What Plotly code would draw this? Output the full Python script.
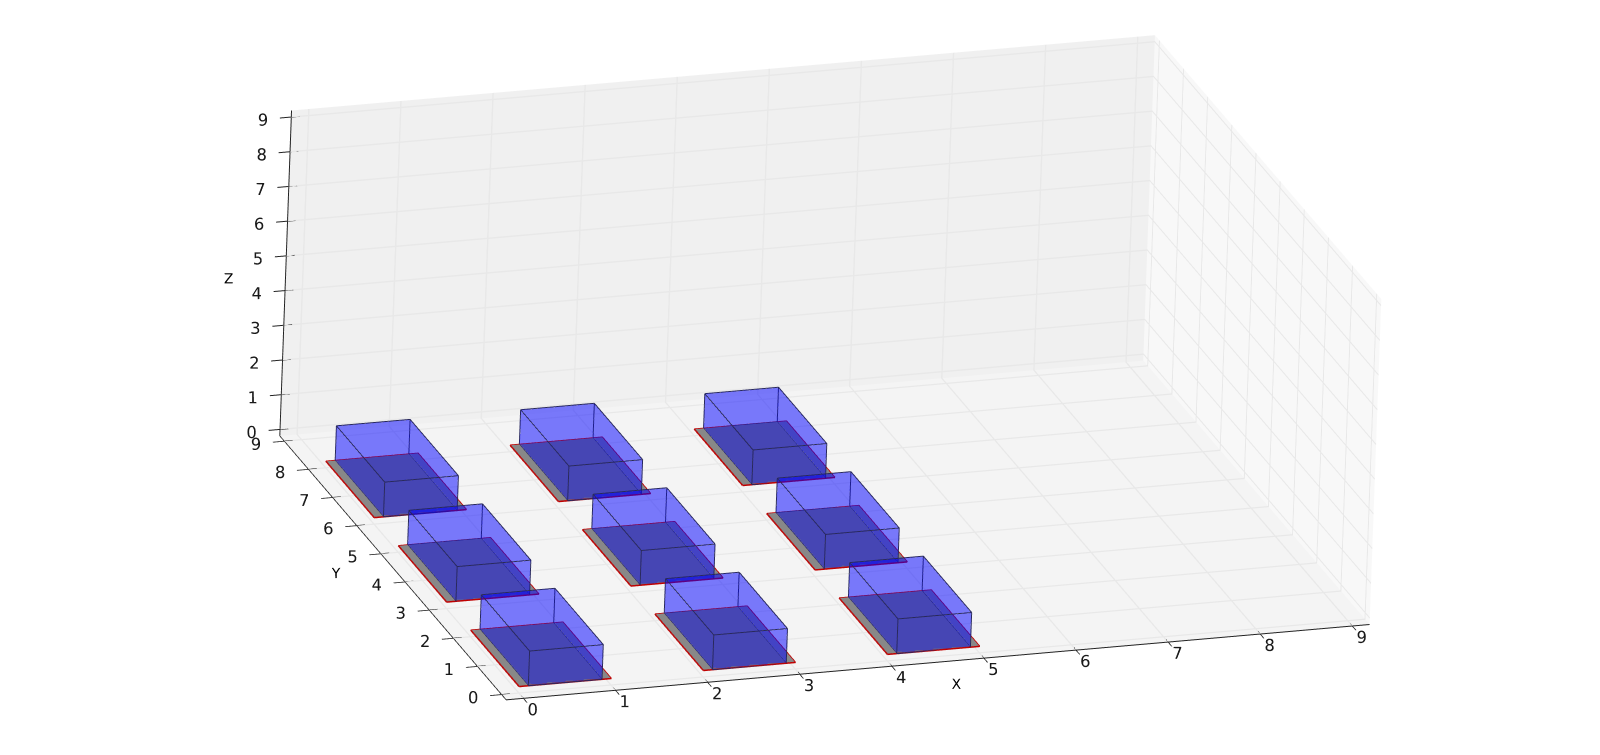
import plotly.graph_objects as go

ticks = list(range(10))
bar_x = [0, 2, 4]
bar_y = [0, 3, 6]
bar_dx = 1
bar_dy = 2
inset = 0.1
height = 1
lo, hi = -0.1875, 9.1875
tick_in = 0.09

fig = go.Figure()
flat = dict(ambient=1, diffuse=0, specular=0)

def quad(x0, x1, y0, y1, z, color):
    return go.Mesh3d(x=[x0, x1, x1, x0], y=[y0, y0, y1, y1], z=[z] * 4, i=[0, 0], j=[1, 2], k=[2, 3], color=color,
                     flatshading=True, lighting=flat, hoverinfo='skip')

I = [4, 4, 0, 0, 1, 1, 2, 2, 3, 3]
J = [5, 6, 1, 5, 2, 6, 3, 7, 0, 4]
K = [6, 7, 5, 4, 6, 5, 7, 6, 4, 7]

for bx in bar_x:
    for by in bar_y:
        fig.add_trace(quad(bx, bx + inset, by, by + bar_dy, 0, '#888888'))
        fig.add_trace(quad(bx + bar_dx - inset, bx + bar_dx, by, by + bar_dy, 0, '#888888'))
        fig.add_trace(quad(bx + inset, bx + bar_dx - inset, by, by + bar_dy, 0, '#646494'))
        fig.add_trace(go.Scatter3d(x=[bx, bx + bar_dx, bx + bar_dx, bx, bx],
                                   y=[by, by, by + bar_dy, by + bar_dy, by], z=[0] * 5, mode='lines',
                                   line=dict(color='#c00000', width=3), hoverinfo='skip'))

for bx in bar_x:
    for by in bar_y:
        x0, x1, y0, y1 = bx + inset, bx + bar_dx - inset, by, by + bar_dy
        xs = [x0, x1, x1, x0, x0, x1, x1, x0]
        ys = [y0, y0, y1, y1, y0, y0, y1, y1]
        zs = [0, 0, 0, 0, height, height, height, height]
        fig.add_trace(go.Mesh3d(x=xs, y=ys, z=zs, i=I, j=J, k=K, color='#0000ff', opacity=0.3, flatshading=True,
                                lighting=flat, hoverinfo='skip'))
        ex, ey, ez = [], [], []
        for a, b in [(0, 1), (1, 2), (2, 3), (3, 0), (4, 5), (5, 6), (6, 7), (7, 4), (0, 4), (1, 5), (2, 6), (3, 7)]:
            ex += [xs[a], xs[b], None]
            ey += [ys[a], ys[b], None]
            ez += [zs[a], zs[b], None]
        fig.add_trace(go.Scatter3d(x=ex, y=ey, z=ez, mode='lines', line=dict(color='#28285f', width=2), hoverinfo='skip'))

tx, ty, tz = [], [], []
for t in ticks:
    tx += [t, t, None, lo, lo + tick_in, None, lo, lo + tick_in, None]
    ty += [lo, lo + tick_in, None, t, t, None, hi, hi, None]
    tz += [lo, lo, None, lo, lo, None, t, t, None]
fig.add_trace(go.Scatter3d(x=tx, y=ty, z=tz, mode='lines', line=dict(color='#222222', width=2), hoverinfo='skip'))

def axis(title, bg):
    return dict(title=dict(text=title, font=dict(size=14, color='#000', family='DejaVu Sans')),
                range=[lo, hi], autorange=False, tickvals=ticks, ticktext=[str(t) for t in ticks], tickmode='array',
                tickfont=dict(size=14, color='#1a1a1a', family='DejaVu Sans'), tickangle=0,
                showbackground=True, backgroundcolor=bg, showgrid=True, gridcolor='#e8e8e8', gridwidth=3,
                zeroline=False, showline=True, linecolor='#222222', linewidth=2, ticks='outside', ticklen=12,
                tickcolor='#222222', tickwidth=2, showspikes=False)

fig.update_layout(width=1600, height=755, autosize=False, margin=dict(l=0, r=0, t=0, b=0),
                  paper_bgcolor='white', showlegend=False,
                  scene=dict(domain=dict(x=[0, 1], y=[0, 1]), aspectmode='manual',
                             aspectratio=dict(x=2.405, y=1.951, z=0.927),
                             camera=dict(projection=dict(type='orthographic'),
                                         eye=dict(x=-0.900, y=-2.483, z=0.986),
                                         center=dict(x=-0.022, y=0.116, z=-0.094),
                                         up=dict(x=-0.016, y=0.059, z=0.994)),
                             xaxis=axis('X', '#f8f8f8'), yaxis=axis('Y', '#f0f0f0'), zaxis=axis('Z', '#f4f4f4')))
fig.write_html("out.html")
